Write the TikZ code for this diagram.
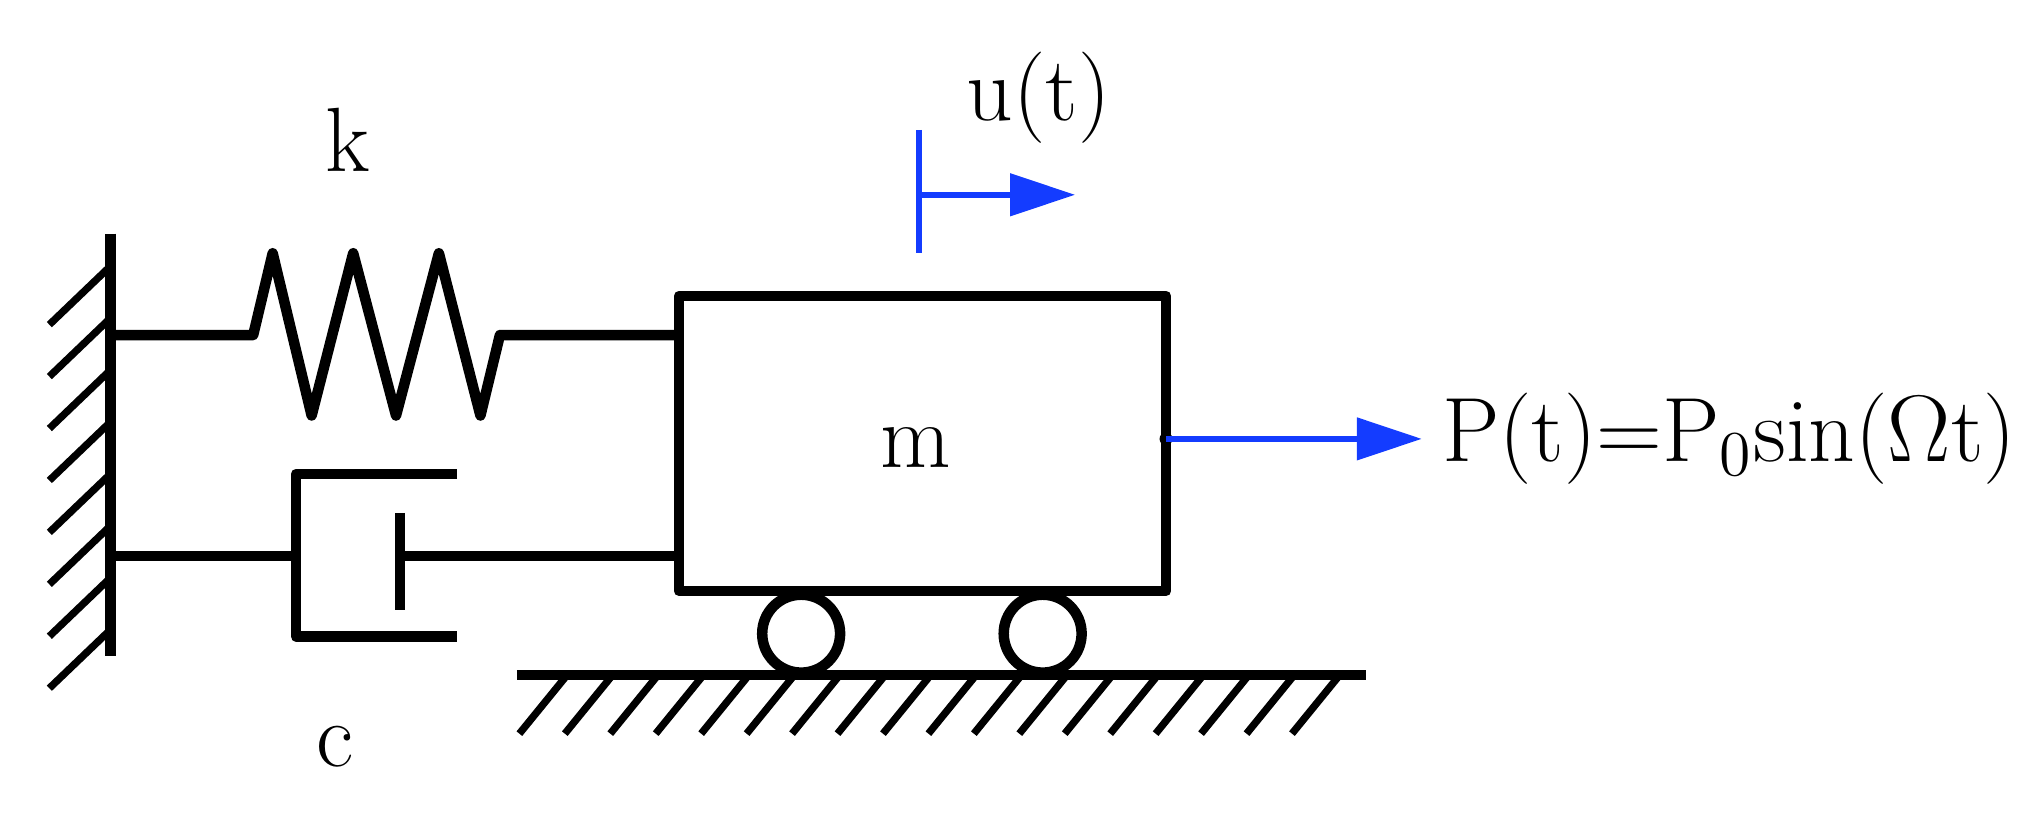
\documentclass[tikz,border=0pt]{standalone}
\usetikzlibrary{arrows.meta}
\begin{document}
\begin{tikzpicture}[x=0.01cm,y=-0.01cm,
  blk/.style={line width=2.3pt,line join=round},
  hatch/.style={line width=1.6pt},
  blu/.style={draw={rgb,255:red,20;green,60;blue,255},line width=1.3pt},
  bluarrow/.style={blu,-{Triangle[length=0.5cm,width=0.32cm]}},
  lbl/.style={font=\fontsize{20}{24}\selectfont,inner sep=0pt}]
\useasboundingbox (0,0) rectangle (1568,626);
% wall
\draw[blk] (85,180) -- (85,505);
\foreach \y in {205,245,285,325,365,405,445,485} \draw[hatch] (85,\y) -- (38,\y+45);
% spring
\draw[blk] (85,258) -- (195,258) -- (210,195) -- (240,320) -- (272,195) -- (305,320) -- (338,195) -- (370,320) -- (385,258) -- (523,258);
% damper
\draw[blk] (85,428) -- (228,428);
\draw[blk] (352,365) -- (228,365) -- (228,490) -- (352,490);
\draw[blk] (308,395) -- (308,470);
\draw[blk] (308,428) -- (523,428);
% mass
\node[blk,draw,minimum width=3.75cm,minimum height=2.27cm,inner sep=0pt] (m) at (710.5,341.5) {};
\node[lbl] (ml) at (705,345) {m};
% wheels
\draw[blk] (617,488) circle (30);
\draw[blk] (803,488) circle (30);
% ground
\draw[blk] (398,520) -- (1052,520);
\foreach \x in {435,470,505,540,575,610,645,680,715,750,785,820,855,890,925,960,995,1030} \draw[hatch] (\x,522) -- (\x-35,565);
% u(t)
\coordinate (ut) at (708,150);
\coordinate (ue) at (828,150);
\draw[blu] (708,100) -- (708,195);
\draw[bluarrow] (ut) -- (ue);
\node[lbl] (ul) at (800,75) {u(t)};
% force
\coordinate (fs) at (898,338);
\fill (fs) circle (5);
\node[lbl,anchor=west] (pl) at (1110,338) {P(t)=P\textsubscript{0}sin($\Omega$t)};
\draw[bluarrow] (fs) -- (1095,338);
% labels
\node[lbl] (k) at (268,108) {k};
\node[lbl] (c) at (258,575) {c};
\end{tikzpicture}
\end{document}
